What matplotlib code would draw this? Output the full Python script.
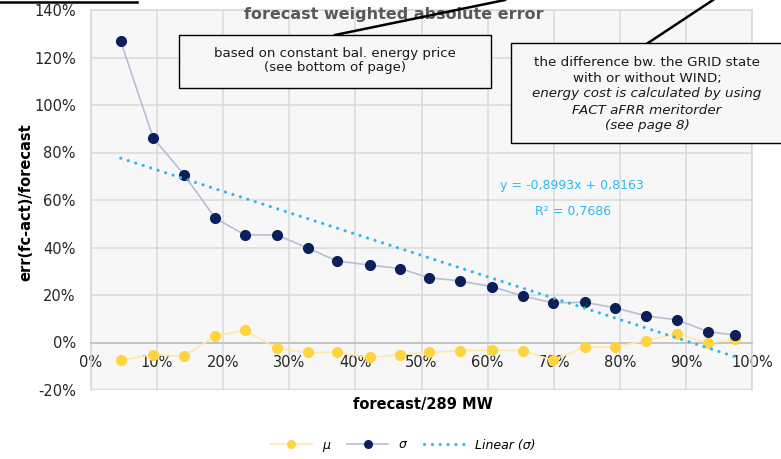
import matplotlib
matplotlib.use("Agg")
import matplotlib.pyplot as plt
from matplotlib.lines import Line2D
from matplotlib.patches import Rectangle
import numpy as np

# forecast level as share of 289 MW (%)
forecast_pct = [4.5, 9.4, 14.1, 18.8, 23.3, 28.1, 32.8, 37.2, 42.2, 46.8, 51.1,
                55.8, 60.7, 65.4, 69.9, 74.7, 79.3, 84.0, 88.7, 93.3, 97.4]
# mean weighted error (%)
mu_pct = [-7.5, -5.1, -5.8, 2.7, 5.2, -2.5, -4.2, -4.2, -6.3, -5.1, -4.2,
          -3.5, -3.1, -3.5, -7.5, -1.8, -1.8, 0.8, 3.7, -0.3, 1.3]
# standard deviation of weighted error (%)
sigma_pct = [126.8, 86.2, 70.6, 52.3, 45.3, 45.3, 39.8, 34.3, 32.6, 31.1, 27.3,
             25.9, 23.5, 19.5, 16.7, 16.9, 14.6, 11.2, 9.5, 4.6, 3.1]
# linear trend of sigma (fractions)
trend_slope = -0.8993
trend_intercept = 0.8163
trend_r2 = 0.7686

x_ticks = [0, 10, 20, 30, 40, 50, 60, 70, 80, 90, 100]
y_ticks = [-20, 0, 20, 40, 60, 80, 100, 120, 140]

W, H = 781, 459
fig = plt.figure(figsize=(W / 100, H / 100), dpi=100)
fig.patch.set_facecolor("white")


def fx(x):
    return x / W


def fy(y):
    return 1 - y / H


ax = fig.add_axes([fx(91), fy(390), fx(752) - fx(91), fy(10) - fy(390)])
ax.set_facecolor("#f7f7f7")
ax.set_xlim(0, 100)
ax.set_ylim(-20, 140)
ax.set_xticks(x_ticks)
ax.set_yticks(y_ticks)
ax.set_xticklabels([f"{t}%" for t in x_ticks])
ax.set_yticklabels([f"{t}%" for t in y_ticks])
ax.grid(True, color="#d9d9d9", linewidth=1.1, zorder=0)
ax.set_axisbelow(True)
for s in ["left", "right", "top"]:
    ax.spines[s].set_color("#d9d9d9")
    ax.spines[s].set_linewidth(1.2)
ax.spines["bottom"].set_position(("data", 0))
ax.spines["bottom"].set_color("#bfbfbf")
ax.spines["bottom"].set_linewidth(1.2)
ax.axhline(-20, color="#d9d9d9", linewidth=2.4, zorder=1)
ax.tick_params(axis="both", length=0, labelsize=10.5, colors="#262626")
ax.tick_params(axis="x", pad=9)
ax.tick_params(axis="y", pad=11)

# series
ax.plot(forecast_pct, mu_pct, color="#fde9a8", linewidth=1.2, marker="o",
        markersize=7, markerfacecolor="#ffd43f", markeredgecolor="#ffd43f",
        zorder=3)
ax.plot(forecast_pct, sigma_pct, color="#b7bfd2", linewidth=1.2, marker="o",
        markersize=7, markerfacecolor="#0b1f5a", markeredgecolor="#0b1f5a",
        zorder=4)
xt = np.array([forecast_pct[0], forecast_pct[-1]]) / 100
yt = (trend_slope * xt + trend_intercept) * 100
ax.plot(xt * 100, yt, color="#2fb8ef", linewidth=2.3, linestyle=(0, (0.01, 2.45)),
        dash_capstyle="round", zorder=5)

ax.text(fx(572), fy(185), "y = -0,8993x + 0,8163", transform=fig.transFigure,
        ha="center", va="center", fontsize=9, color="#2fb8ef")
ax.text(fx(573), fy(211), "R² = 0,7686", transform=fig.transFigure,
        ha="center", va="center", fontsize=9, color="#2fb8ef")

# labels and title
fig.text(fx(394), fy(15), "forecast weighted absolute error", ha="center",
         va="center", fontsize=11.5, fontweight="bold", color="#595959")
fig.text(fx(423), fy(405), "forecast/289 MW", ha="center", va="center",
         fontsize=10.5, fontweight="bold", color="#000000")
fig.text(fx(26), fy(202), "err(fc-act)/forecast", ha="center", va="center",
         rotation=90, fontsize=10.5, fontweight="bold", color="#000000")

# annotation boxes with their leader lines
fig.add_artist(Line2D([fx(0), fx(137)], [fy(1.5), fy(1.5)], color="black",
                      linewidth=1.8))
fig.add_artist(Line2D([fx(335), fx(505)], [fy(35), fy(0)], color="black",
                      linewidth=1.8, zorder=6))
fig.add_artist(Line2D([fx(648), fx(713)], [fy(43), fy(0)], color="black",
                      linewidth=1.8, zorder=6))
fig.add_artist(Rectangle((fx(178.5), fy(87.5)), fx(490.5) - fx(178.5),
                         fy(35) - fy(87.5), transform=fig.transFigure,
                         facecolor="#f7f7f7", edgecolor="black", linewidth=1.0,
                         zorder=7))
fig.text(fx(335), fy(61), "based on constant bal. energy price\n(see bottom of page)",
         ha="center", va="center", fontsize=9.6, color="#1a1a1a",
         linespacing=1.1, zorder=8)
fig.add_artist(Rectangle((fx(510.5), fy(143.5)), fx(782) - fx(510.5),
                         fy(43.5) - fy(143.5), transform=fig.transFigure,
                         facecolor="#f7f7f7", edgecolor="black", linewidth=1.0,
                         zorder=7))
box2_lines = [("the difference bw. the GRID state", "normal", 62),
              ("with or without WIND;", "normal", 78),
              ("energy cost is calculated by using", "italic", 94),
              ("FACT aFRR meritorder", "italic", 110),
              ("(see page 8)", "italic", 126)]
for txt, style, yy in box2_lines:
    fig.text(fx(647), fy(yy), txt, ha="center", va="center", fontsize=9.7,
             style=style, color="#1a1a1a", zorder=8)

# legend
handles = [
    Line2D([], [], color="#fde9a8", linewidth=1.2, marker="o", markersize=5.5,
           markerfacecolor="#ffd43f", markeredgecolor="#ffd43f"),
    Line2D([], [], color="#b7bfd2", linewidth=1.2, marker="o", markersize=5.5,
           markerfacecolor="#0b1f5a", markeredgecolor="#0b1f5a"),
    Line2D([], [], color="#2fb8ef", linewidth=2.3, linestyle=(0, (0.01, 2.45)),
           dash_capstyle="round"),
]
leg = fig.legend(handles, ["μ", "σ", "Linear (σ)"], loc="center",
                 bbox_to_anchor=(fx(403), fy(445)), ncol=3, frameon=False,
                 handlelength=3.3, columnspacing=1.4,
                 handletextpad=0.8, prop={"style": "italic", "size": 9})

fig.savefig("out.png", dpi=100)
